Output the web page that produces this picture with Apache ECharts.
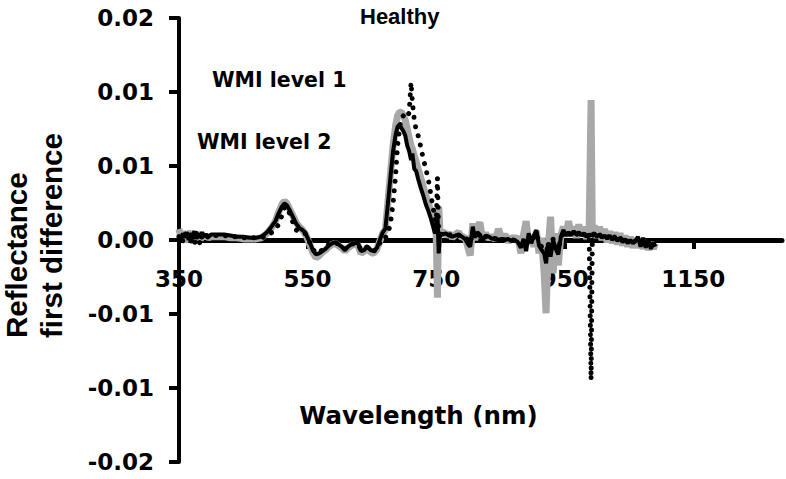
<!DOCTYPE html>
<html><head><meta charset="utf-8">
<script src="https://cdn.jsdelivr.net/npm/echarts@6/dist/echarts.min.js"></script>
<style>html,body{margin:0;padding:0;background:#fff}#chart{width:786px;height:479px}</style>
</head><body><div id="chart"></div>
<script>
// Wavelength (nm)
const wavelength = [
  350,353,356,359,362,365,368,371,374,377,380,383,386,389,392,396,400,
  410,420,430,440,450,460,470,478,
  485,490,495,500,505,510,514,518,522,527,532,537,542,546,550,554,558,563,568,573,578,583,588,593,598,603,608,613,618,623,628,633,638,643,648,653,658,663,667,
  671,675,679,683,687,690,693,696,699,702,705,708,711,713,716,719,722,726,730,734,738,742,745,748,750,752,754,756,
  760,765,770,775,780,785,790,795,800,803,
  807,810,814,818,822,827,832,837,842,847,
  852,857,862,867,872,877,882,886,890,894,
  898,902,906,910,914,918,921,924,928,932,
  936,940,944,948,952,956,960,964,968,972,
  976,980,984,988,991,993,996,1000,1004,1008,
  1012,1016,1020,1024,1028,1032,1036,1040,1044,1048,
  1052,1056,1060,1064,1068,1072,1076,1080,1084,1088,
  1091
];
// Healthy (dotted black)
const healthy = [
  0.0003,0.0005,-0.0001,0.0006,0.0001,0.0004,-0.0003,0.0005,-0.0004,0.0006,0.0001,-0.0004,0.0004,0.0002,0.0004,0.0002,0.0004,
  0.0004,0.0004,0.0003,0.0003,0.0002,0.0002,0.0002,0.0002,
  0.0003,0.0005,0.0007,0.0010,0.0014,0.0022,0.0029,0.0030,0.0024,0.0016,
  0.0009,0.0008,0.0007,0.0006,0.0002,-0.0003,-0.0008,-0.0012,-0.0011,-0.0009,
  -0.0007,-0.0004,-0.0002,-0.0002,-0.0004,-0.0006,-0.0008,-0.0006,-0.0004,-0.0003,
  -0.0003,-0.0009,-0.0008,-0.0006,-0.0009,-0.0010,-0.0008,-0.0002,0.0002,
  0.0002,0.0006,0.0015,0.0033,0.0058,0.0085,0.0100,0.0110,0.0112,0.0112,0.0110,0.0115,0.0142,0.0125,0.0108,0.0099,0.0094,0.0084,0.0073,0.0064,0.0054,0.0040,0.0030,0.0020,0.0012,0.0056,0.0006,0.0005,
  0.0004,0.0005,0.0005,0.0004,0.0003,0.0004,0.0004,0.0002,0.0000,-0.0003,
  0.0008,0.0003,0.0005,0.0004,0.0001,0.0003,0.0002,0.0002,0.0001,0.0001,
  0.0001,0.0000,0.0001,0.0000,0.0000,-0.0001,-0.0004,0.0001,-0.0006,0.0004,
  -0.0002,0.0003,0.0006,-0.0003,-0.0006,-0.0009,-0.0015,-0.0002,-0.0010,0.0001,
  -0.0005,-0.0009,0.0002,0.0006,0.0004,0.0006,0.0004,0.0006,0.0005,0.0006,
  0.0004,0.0005,0.0004,0.0005,-0.0126,0.0004,0.0006,0.0004,0.0005,0.0003,
  0.0004,0.0002,0.0004,0.0001,0.0003,0.0000,0.0002,-0.0001,0.0001,-0.0002,
  0.0000,-0.0002,-0.0001,-0.0003,-0.0002,-0.0004,-0.0003,-0.0005,-0.0003,-0.0005,
  -0.0004
];
// WMI level 1 (thick grey)
const wmiLevel1 = [
  0.0010,0.0002,0.0008,-0.0002,0.0006,0.0003,0.0008,-0.0001,0.0006,0.0002,0.0007,0.0000,0.0005,0.0002,0.0004,0.0002,0.0003,
  0.0003,0.0003,0.0002,0.0002,0.0001,0.0001,0.0001,0.0002,
  0.0005,0.0008,0.0012,0.0017,0.0025,0.0032,0.0035,0.0033,0.0028,0.0022,
  0.0016,0.0012,0.0009,0.0006,0.0001,-0.0005,-0.0011,-0.0016,-0.0014,-0.0011,
  -0.0009,-0.0006,-0.0004,-0.0003,-0.0005,-0.0007,-0.0010,-0.0007,-0.0005,-0.0004,
  -0.0004,-0.0012,-0.0010,-0.0007,-0.0011,-0.0012,-0.0008,0.0000,0.0006,
  0.0009,0.0034,0.0060,0.0085,0.0103,0.0112,0.0115,0.0115,0.0112,0.0108,0.0100,0.0092,0.0085,0.0082,0.0076,0.0070,0.0064,0.0056,0.0048,0.0040,0.0033,0.0025,0.0018,0.0011,0.0008,-0.0052,0.0030,0.0006,
  0.0008,0.0004,0.0006,0.0002,0.0005,0.0007,0.0002,0.0003,-0.0008,-0.0014,
  0.0015,0.0000,0.0010,0.0016,0.0002,0.0006,0.0001,0.0004,0.0000,0.0010,
  0.0001,0.0005,-0.0002,0.0003,0.0000,0.0003,-0.0012,0.0005,0.0017,-0.0004,
  0.0004,-0.0006,0.0008,-0.0012,0.0002,-0.0030,-0.0066,-0.0010,0.0021,-0.0030,
  0.0006,-0.0023,0.0004,0.0012,0.0003,0.0017,0.0005,0.0012,0.0002,0.0014,
  0.0004,0.0012,0.0001,0.0010,0.0126,0.0004,0.0013,0.0002,0.0012,0.0000,
  0.0010,-0.0002,0.0008,-0.0003,0.0007,-0.0004,0.0006,-0.0005,0.0004,-0.0006,
  0.0003,-0.0007,0.0002,-0.0007,0.0001,-0.0008,0.0000,-0.0009,-0.0002,-0.0008,
  -0.0003
];
// WMI level 2 (solid black)
const wmiLevel2 = [
  0.0004,0.0001,0.0006,0.0002,0.0007,0.0000,0.0006,0.0003,0.0008,0.0001,0.0006,0.0002,0.0007,0.0003,0.0005,0.0003,0.0005,
  0.0005,0.0005,0.0004,0.0003,0.0003,0.0002,0.0002,0.0003,
  0.0006,0.0009,0.0013,0.0017,0.0024,0.0030,0.0033,0.0031,0.0027,0.0021,
  0.0015,0.0011,0.0009,0.0007,0.0002,-0.0003,-0.0009,-0.0013,-0.0012,-0.0010,
  -0.0008,-0.0005,-0.0003,-0.0002,-0.0004,-0.0006,-0.0009,-0.0006,-0.0004,-0.0003,
  -0.0002,-0.0010,-0.0009,-0.0006,-0.0009,-0.0010,-0.0007,0.0001,0.0007,
  0.0010,0.0033,0.0057,0.0080,0.0095,0.0102,0.0104,0.0101,0.0098,0.0094,0.0085,0.0080,0.0072,0.0078,0.0064,0.0062,0.0055,0.0047,0.0040,0.0032,0.0026,0.0019,0.0013,0.0006,0.0008,0.0024,-0.0012,0.0006,
  0.0005,0.0006,0.0004,0.0003,0.0004,0.0005,0.0003,0.0001,-0.0004,-0.0006,
  0.0012,0.0002,0.0007,0.0005,0.0000,0.0004,0.0003,0.0001,0.0002,0.0000,
  0.0001,0.0000,0.0001,-0.0001,0.0000,-0.0002,-0.0007,0.0001,-0.0010,0.0006,
  -0.0003,0.0004,0.0009,-0.0005,-0.0009,-0.0012,-0.0021,-0.0003,-0.0015,0.0000,
  -0.0008,-0.0013,0.0003,0.0009,0.0004,0.0007,0.0004,0.0008,0.0005,0.0007,
  0.0004,0.0006,0.0003,0.0005,0.0004,0.0005,0.0006,0.0003,0.0005,0.0002,
  0.0004,0.0001,0.0004,0.0000,0.0003,-0.0001,0.0002,-0.0002,0.0001,-0.0003,
  0.0000,-0.0003,-0.0001,0.0003,-0.0006,0.0002,-0.0007,0.0001,-0.0008,-0.0002,
  -0.0006
];
const xTicks = [350, 550, 750, 950, 1150];
const yTicks = [-0.02, -0.01333, -0.00667, 0, 0.00667, 0.01333, 0.02];

[healthy, wmiLevel1, wmiLevel2].forEach(function (s, k) {
  if (s.length !== wavelength.length) throw new Error('length mismatch in series ' + k + ': ' + s.length + ' vs ' + wavelength.length);
});

const pairs = ys => wavelength.map((w, i) => [w, ys[i]]);
const tickFont = { fontFamily: 'DejaVu Sans', fontWeight: 'bold', fontSize: 23, color: '#000' };
const legendBase = {
  icon: 'none', itemWidth: 0, itemHeight: 0, itemGap: 0, padding: 0, selectedMode: false,
  orient: 'horizontal'
};

const chart = echarts.init(document.getElementById('chart'), null, { renderer: 'svg' });
chart.setOption({
  animation: false,
  backgroundColor: '#fff',
  grid: { left: 179, right: 4, top: 18, bottom: 17, containLabel: false, outerBoundsMode: 'none' },
  legend: [
    Object.assign({}, legendBase, { data: ['Healthy'], left: 355, top: 5,
      textStyle: { fontFamily: 'Liberation Sans', fontWeight: 'bold', fontSize: 22, color: '#000' } }),
    Object.assign({}, legendBase, { data: ['WMI level 1'], left: 207, top: 69,
      textStyle: { fontFamily: 'DejaVu Sans', fontWeight: 'bold', fontSize: 20.5, color: '#000' } }),
    Object.assign({}, legendBase, { data: ['WMI level 2'], left: 192, top: 131,
      textStyle: { fontFamily: 'DejaVu Sans', fontWeight: 'bold', fontSize: 20.5, color: '#000' } })
  ],
  xAxis: {
    type: 'value', min: 350, max: 1288, position: 'bottom', offset: -222,
    axisLine: { onZero: false, lineStyle: { color: '#000', width: 5 } },
    axisTick: { customValues: xTicks, length: 9, lineStyle: { color: '#000', width: 4 } },
    axisLabel: Object.assign({ customValues: xTicks, margin: 27, formatter: v => String(v) }, tickFont),
    splitLine: { show: false },
    name: 'Wavelength (nm)', nameLocation: 'middle', nameGap: 163,
    nameTextStyle: { fontFamily: 'DejaVu Sans', fontWeight: 'bold', fontSize: 24.5, color: '#000', padding: [0, 124, 0, 0] }
  },
  yAxis: {
    type: 'value', min: -0.02, max: 0.02,
    axisLine: { show: true, lineStyle: { color: '#000', width: 4 } },
    axisTick: { show: true, customValues: yTicks, length: 10, lineStyle: { color: '#000', width: 4 } },
    axisLabel: Object.assign({ customValues: yTicks, margin: 25, formatter: v => v.toFixed(2) }, tickFont),
    splitLine: { show: false }
  },
  graphic: [{
    type: 'text', x: 34, y: 338, rotation: Math.PI / 2,
    style: { text: 'Reflectance\nfirst difference', fill: '#000', fontSize: 29.5, fontWeight: 'bold',
      fontFamily: 'Liberation Sans', align: 'left', verticalAlign: 'middle', lineHeight: 35 }
  }],
  series: [
    { name: 'WMI level 1', type: 'line', data: pairs(wmiLevel1), showSymbol: false, z: 1,
      lineStyle: { color: '#a8a8a8', width: 7 }, itemStyle: { color: '#a8a8a8' } },
    { name: 'WMI level 2', type: 'line', data: pairs(wmiLevel2), showSymbol: false, z: 2,
      lineStyle: { color: '#000', width: 4 }, itemStyle: { color: '#000' } },
    { name: 'Healthy', type: 'line', data: pairs(healthy), showSymbol: false, z: 3,
      lineStyle: { color: '#000', width: 5, type: [0.001, 9.5], cap: 'round' }, itemStyle: { color: '#000' } }
  ]
});
</script>
</body></html>
